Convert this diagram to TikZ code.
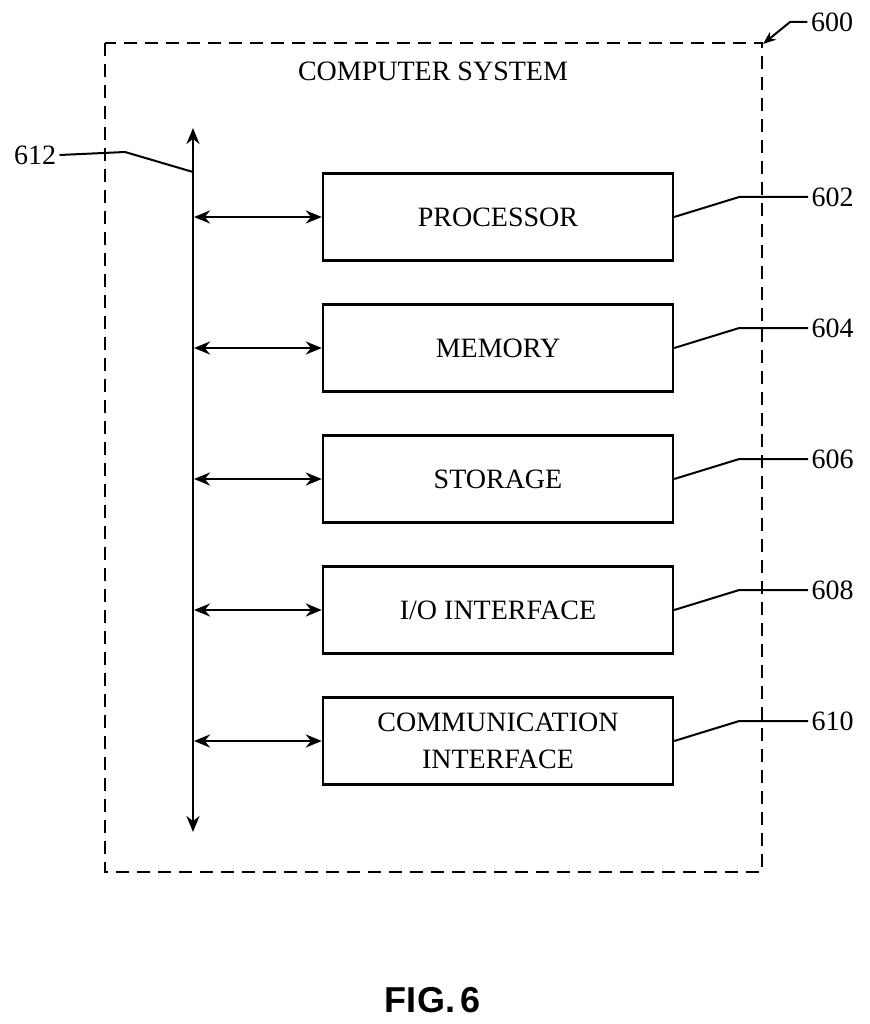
\documentclass[tikz,border=0pt]{standalone}
\usepackage{fontspec}
\setmainfont{Liberation Serif}
\newfontfamily\figfont{Liberation Sans}
\usetikzlibrary{arrows.meta}
\begin{document}
\begin{tikzpicture}[x=1pt,y=-1pt,
  box/.style={draw,line width=2.4pt,minimum width=350pt,minimum height=87pt,font=\fontsize{28}{37}\selectfont,align=center,inner sep=0pt},
  lbl/.style={font=\fontsize{28}{34}\selectfont},
  lead/.style={line width=2pt},
  dbl/.style={line width=2.8pt,{Stealth[length=16pt,width=13pt]}-{Stealth[length=16pt,width=13pt]}}]
\useasboundingbox (0,0) rectangle (869,1024);
\draw[line width=2.6pt,dash pattern=on 13pt off 8pt] (105,43) rectangle (762,872);
\node[lbl] (title) at (433,71) {COMPUTER SYSTEM};
\coordinate (bt) at (193,128); \coordinate (bb) at (193,832);
\draw[dbl] (bt) -- (bb);
\foreach \n/\y/\t/\num in {p/217/{PROCESSOR}/602,m/348/{MEMORY}/604,s/479/{STORAGE}/606,i/610/{I/O INTERFACE}/608,c/741/{COMMUNICATION\\INTERFACE}/610}{
  \node[box] (\n) at (498,\y) {\t};
  \coordinate (\n b) at (194,\y);
  \draw[dbl] (\n b) -- (\n.west);
  \node[lbl,anchor=west] (\n l) at (808,\y-20) {\num};
  \draw[lead] (\n.east) -- ++(65,-20) -- (\n l.west);
}
\node[lbl] (l612) at (35,155) {612};
\draw[lead] (l612.east) -- (125,152) -- (193,172);
\node[lbl] (l600) at (832,22) {600};
\coordinate (c600) at (763,44);
\draw[lead,-{Stealth[length=13pt,width=10pt]}] (l600.west) -- (790,22) -- (c600);
\node[font=\figfont\bfseries\fontsize{36}{40}\selectfont] (fig) at (433,1000) {FIG.\,6};
\end{tikzpicture}
\end{document}
